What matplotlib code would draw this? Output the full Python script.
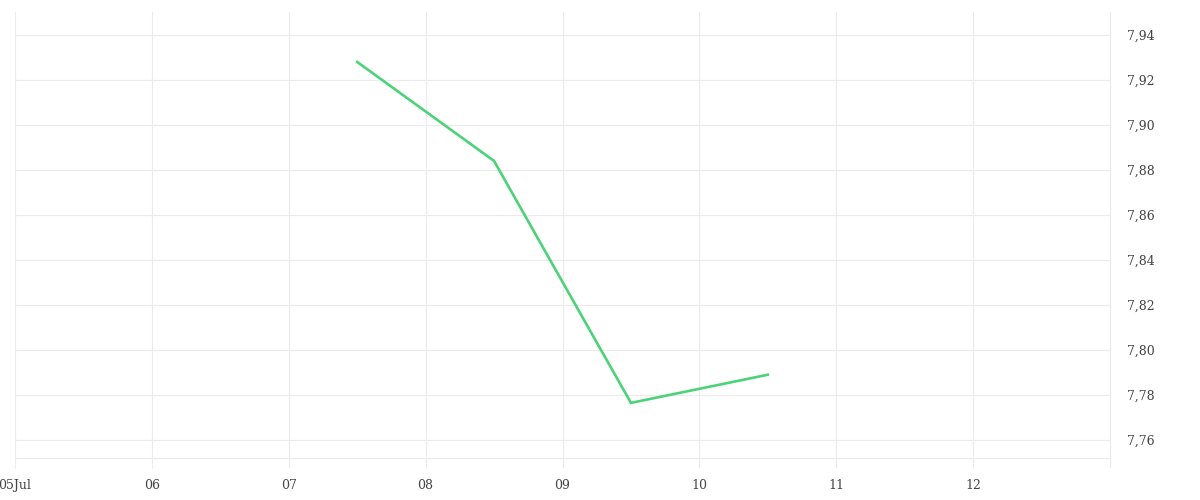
import numpy as np
import pandas as pd
import matplotlib
matplotlib.use('Agg')
import matplotlib.pyplot as plt
import matplotlib.dates as mdates

fechas = pd.to_datetime(['2023-07-07 12:00', '2023-07-08 12:00', '2023-07-09 12:00', '2023-07-10 12:00'])
valores = [7.928, 7.884, 7.7765, 7.789]
dias_ticks = pd.date_range('2023-07-05', '2023-07-13', freq='D')
etiquetas_x = ['05Jul', '06', '07', '08', '09', '10', '11', '12', '']
yticks = [7.76, 7.78, 7.80, 7.82, 7.84, 7.86, 7.88, 7.90, 7.92, 7.94]

gris = '#ebebeb'
plt.rcParams['font.family'] = ['DejaVu Serif']

fig = plt.figure(figsize=(12, 5), dpi=100)
ax = fig.add_axes([15/1200, 42/500, 1095/1200, 446/500])

ax.plot(fechas, valores, color='#4cd37a', lw=1.9, solid_joinstyle='miter')

ax.set_xlim(pd.Timestamp('2023-07-05'), pd.Timestamp('2023-07-13'))
ax.set_ylim(7.752, 7.9502)
ax.set_xticks(dias_ticks)
ax.set_xticklabels(etiquetas_x)
ax.set_yticks(yticks)
ax.set_yticklabels([('%.2f' % v).replace('.', ',') for v in yticks])

ax.yaxis.tick_right()
ax.grid(True, color=gris, lw=0.8)
ax.set_axisbelow(True)
for lado in ['top', 'left']:
    ax.spines[lado].set_visible(False)
ax.spines['bottom'].set_color(gris)
ax.spines['right'].set_color(gris)
ax.spines['bottom'].set_linewidth(0.8)
ax.spines['right'].set_linewidth(0.8)

ax.tick_params(axis='x', length=7, color=gris, width=0.8, labelsize=9, labelcolor='#444444', pad=8)
ax.tick_params(axis='y', length=0, labelsize=9, labelcolor='#444444', pad=12)

fig.savefig('out.png', dpi=100)
